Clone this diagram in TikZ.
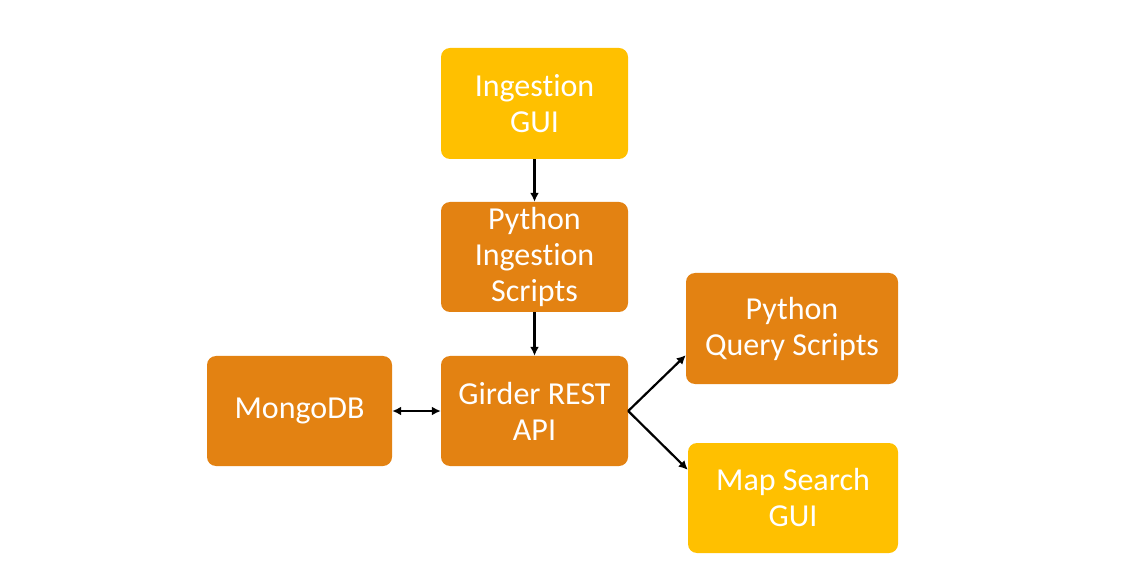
\documentclass[tikz,border=0pt]{standalone}
\usepackage{fontspec}
\setmainfont{Carlito}[Ligatures={NoCommon}]
\usetikzlibrary{arrows.meta}
\definecolor{gold}{HTML}{FFC000}
\definecolor{tangerine}{HTML}{E38212}
\tikzset{
  block/.style={rectangle, rounded corners=9pt, draw=none, text=white, align=center,
    font=\fontsize{32}{36}\selectfont, inner sep=0pt},
  yellowblock/.style={block, fill=gold},
  orangeblock/.style={block, fill=tangerine},
  link/.style={line width=2.2pt, -{Latex[length=9pt,width=9pt]}},
}
\begin{document}
\begin{tikzpicture}[x=1pt,y=1pt]
            \useasboundingbox (0,0) rectangle (1126,584);
            \node[yellowblock, minimum width=187pt, minimum height=111pt] (ingestgui) at (534.5,480.5) {Ingestion\\GUI};
            \node[orangeblock, minimum width=187pt, minimum height=110pt] (pyingest) at (534.5,327) {Python\\Ingestion\\Scripts};
            \node[orangeblock, minimum width=187pt, minimum height=110pt] (girder) at (534.5,173) {Girder REST\\API};
            \node[orangeblock, minimum width=185pt, minimum height=110pt] (mongo) at (299.5,173) {MongoDB};
            \node[orangeblock, minimum width=212pt, minimum height=111pt] (query) at (792,255.5) {Python\\Query Scripts};
            \node[yellowblock, minimum width=210pt, minimum height=110pt] (mapsearch) at (793,86) {Map Search\\GUI};
            %connectors
            \draw[link] (ingestgui) -- (pyingest);
            \draw[link] (pyingest) -- (girder);
            \draw[link, {Latex[length=9pt,width=9pt]}-{Latex[length=9pt,width=9pt]}] (mongo) -- (girder);
            \draw[link] (girder.east) -- ([yshift=29pt]query.south west);
            \draw[link] (girder.east) -- ([yshift=-27pt]mapsearch.north west);
        \end{tikzpicture}
\end{document}
